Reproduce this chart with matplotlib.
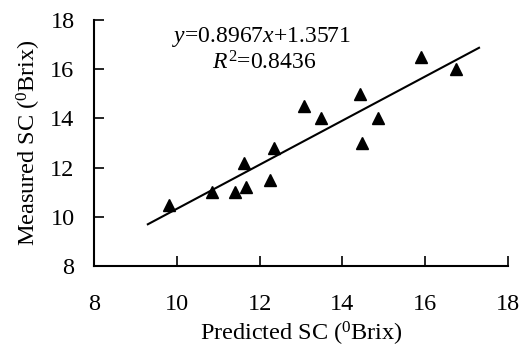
import matplotlib
matplotlib.use("Agg")
import matplotlib.pyplot as plt
import numpy as np

predicted = [9.81, 10.85, 11.41, 11.66, 11.63, 12.24, 12.35, 13.08, 13.49, 14.42, 14.47, 14.86, 15.90, 16.74]
measured = [10.5, 11.0, 11.0, 11.2, 12.2, 11.5, 12.8, 14.5, 14.0, 15.0, 13.0, 14.0, 16.5, 16.0]
slope, intercept = 0.8967, 1.3571
line_x = [9.3, 17.3]
xticks = [8, 10, 12, 14, 16, 18]
yticks = [8, 10, 12, 14, 16, 18]

plt.rcParams['font.family'] = ['Liberation Serif', 'DejaVu Serif']
plt.rcParams['mathtext.fontset'] = 'custom'
plt.rcParams['mathtext.rm'] = 'Liberation Serif'
plt.rcParams['mathtext.it'] = 'Liberation Serif:italic'

fig = plt.figure(figsize=(5.3, 3.47), dpi=100)
ax = fig.add_axes([0.1774, 0.2334, 0.9585 - 0.1774, 0.9424 - 0.2334])

ax.plot(predicted, measured, linestyle='none', marker='^', markersize=8.5, color='black', zorder=3)
lx = np.array(line_x)
ax.plot(lx, slope * lx + intercept, color='black', linewidth=1.5, zorder=2)

ax.set_xlim(8, 18)
ax.set_ylim(8, 18)
ax.set_xticks(xticks)
ax.set_yticks(yticks)
ax.spines['top'].set_visible(False)
ax.spines['right'].set_visible(False)
for s in ['left', 'bottom']:
    ax.spines[s].set_linewidth(1.5)
ax.tick_params(axis='x', direction='in', length=7, width=1.2, pad=20, labelsize=17.5)
ax.tick_params(axis='y', direction='in', length=7, width=1.2, pad=14, labelsize=17.5)

ax.set_xlabel('Predicted SC ($\\mathregular{^{0}}$Brix)', fontsize=17.5, labelpad=4)
ax.set_ylabel('Measured SC ($\\mathregular{^{0}}$Brix)', fontsize=17.5, labelpad=5)

ax.text(0.405, 0.93, '$\\mathit{y}$=0.8967$\\mathit{x}$+1.3571', transform=ax.transAxes,
        ha='center', va='center', fontsize=17)
ax.text(0.41, 0.825, '$\\mathit{R}^{2}$=0.8436', transform=ax.transAxes,
        ha='center', va='center', fontsize=17)

fig.savefig('out.png', dpi=100)
